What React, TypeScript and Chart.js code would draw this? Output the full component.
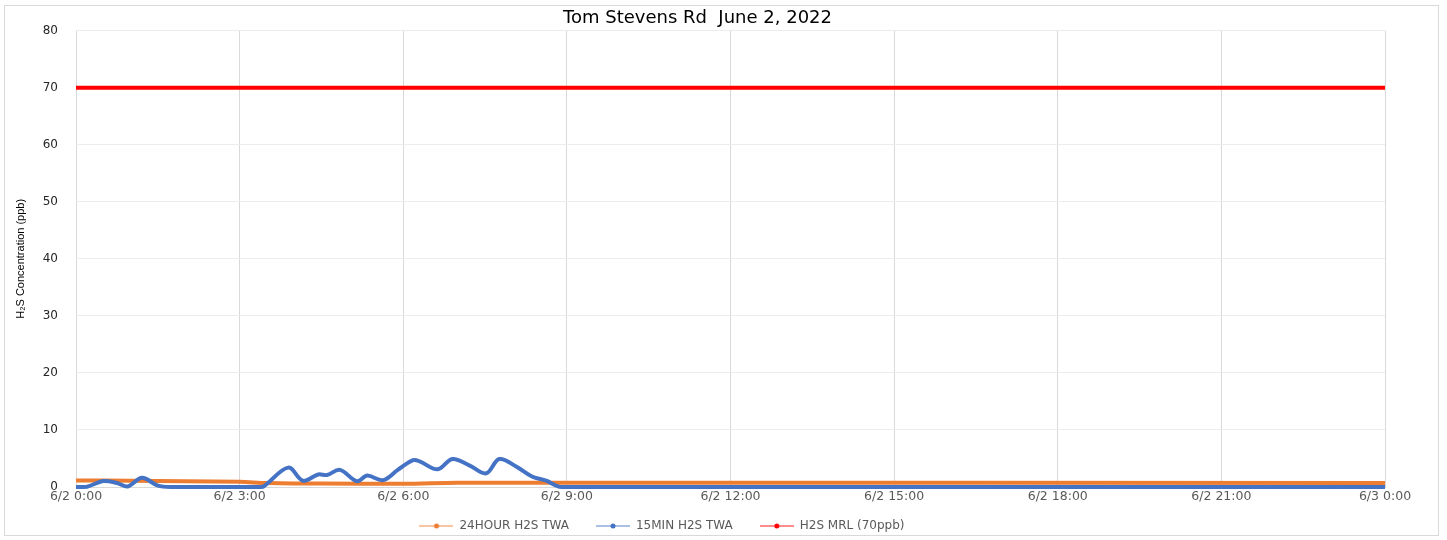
import React, { useEffect, useRef } from "react";
import { Chart, registerables } from "chart.js";

Chart.register(...registerables);

// ---- data ----
const chartTitle = "Tom Stevens Rd  June 2, 2022";
const yAxisTitle = "H\u2082S Concentration (ppb)";
const xTickLabels = [
  "6/2 0:00", "6/2 3:00", "6/2 6:00", "6/2 9:00", "6/2 12:00",
  "6/2 15:00", "6/2 18:00", "6/2 21:00", "6/3 0:00",
];
const seriesNames = ["24HOUR H2S TWA", "15MIN H2S TWA", "H2S MRL (70ppb)"];

// hours after 6/2 0:00
const min15Hours = [
  0, 0.2, 0.5, 0.75, 0.95, 1.21, 1.5, 1.75, 3.3, 3.43, 3.89, 4.16, 4.44, 4.6,
  4.84, 5.15, 5.34, 5.63, 5.9, 6.18, 6.3, 6.63, 6.9, 7.21, 7.52, 7.76, 8.07,
  8.37, 8.62, 8.86, 9.1, 24,
];
const min15Values = [
  0, 0.05, 1.05, 0.7, 0.1, 1.6, 0.25, 0, 0, 0.05, 3.4, 1.1, 2.2, 2.1, 3.0,
  1.0, 2.0, 1.2, 3.0, 4.7, 4.5, 3.1, 4.9, 3.8, 2.4, 4.9, 3.6, 1.8, 1.1, 0.05,
  0, 0,
];
const hour24Hours = [0, 1, 2, 3, 3.5, 4.5, 6, 7, 9, 24];
const hour24Values = [1.15, 1.1, 1.0, 0.9, 0.7, 0.6, 0.55, 0.75, 0.75, 0.72];
const mrlHours = [0, 24];
const mrlValues = [70, 70];

const ORANGE = "#ED7D31";
const BLUE = "#4472C4";
const RED = "#FF0000";

function legendIcon(color: string): HTMLCanvasElement {
  const c = document.createElement("canvas");
  c.width = 34;
  c.height = 8;
  const ctx = c.getContext("2d")!;
  ctx.globalAlpha = 0.6;
  ctx.strokeStyle = color;
  ctx.lineWidth = 1.5;
  ctx.beginPath();
  ctx.moveTo(0, 4);
  ctx.lineTo(34, 4);
  ctx.stroke();
  ctx.globalAlpha = 1;
  ctx.fillStyle = color;
  ctx.beginPath();
  ctx.arc(17, 4, 2.5, 0, Math.PI * 2);
  ctx.fill();
  return c;
}

function pts(xs: number[], ys: number[]) {
  return xs.map((x, i) => ({ x, y: ys[i] }));
}

export default function App() {
  const ref = useRef<HTMLCanvasElement | null>(null);

  useEffect(() => {
    document.body.style.margin = "0";
    const canvas = ref.current!;
    const icons = [legendIcon(ORANGE), legendIcon(BLUE), legendIcon(RED)];

    const layoutPlugin = {
      id: "layoutTweaks",
      beforeLayout(chart: any) {
        const lg = chart.legend;
        if (lg && !lg.__patched) {
          const orig = lg.fit.bind(lg);
          lg.fit = function () {
            orig();
            this.height = 36;
          };
          lg.__patched = true;
        }
      },
      afterLayout(chart: any) {
        const lg = chart.legend;
        if (lg) {
          lg.right -= 71;
          lg.top -= 11;
        }
      },
      beforeDraw(chart: any) {
        const ctx = chart.ctx;
        ctx.save();
        ctx.fillStyle = "#ffffff";
        ctx.fillRect(0, 0, chart.width, chart.height);
        ctx.restore();
      },
      afterDraw(chart: any) {
        const ctx = chart.ctx;
        ctx.save();
        ctx.strokeStyle = "#d9d9d9";
        ctx.lineWidth = 1;
        ctx.strokeRect(4.5, 5.5, 1434, 530);
        ctx.restore();
      },
    };

    const chart = new Chart(canvas, {
      type: "line",
      data: {
        datasets: [
          {
            label: seriesNames[0],
            data: pts(hour24Hours, hour24Values),
            borderColor: ORANGE,
            backgroundColor: ORANGE,
            borderWidth: 4,
            pointRadius: 0,
            tension: 0.3,
            order: 2,
            clip: 4,
          },
          {
            label: seriesNames[1],
            data: pts(min15Hours, min15Values),
            borderColor: BLUE,
            backgroundColor: BLUE,
            borderWidth: 4,
            pointRadius: 0,
            tension: 0.35,
            order: 1,
            clip: 4,
          },
          {
            label: seriesNames[2],
            data: pts(mrlHours, mrlValues),
            borderColor: RED,
            backgroundColor: RED,
            borderWidth: 4,
            pointRadius: 0,
            order: 0,
            clip: 6,
          },
        ],
      },
      options: {
        animation: false,
        responsive: false,
        layout: { padding: { left: 10, right: 62, top: 5, bottom: 0 } },
        plugins: {
          title: {
            display: true,
            text: chartTitle,
            color: "#000000",
            font: { family: "DejaVu Sans", size: 18, weight: "normal", lineHeight: 1.2 },
            padding: { top: 3, bottom: 1 },
          },
          legend: {
            position: "bottom",
            labels: {
              usePointStyle: true,
              pointStyleWidth: 34,
              color: "#595959",
              font: { family: "DejaVu Sans", size: 12 },
              padding: 27,
              generateLabels: () =>
                seriesNames.map((name, i) => ({
                  text: name,
                  pointStyle: icons[i],
                  fillStyle: "transparent",
                  strokeStyle: "transparent",
                  lineWidth: 0,
                  hidden: false,
                  datasetIndex: i,
                  fontColor: "#595959",
                })),
            },
          },
          tooltip: { enabled: false },
        },
        scales: {
          x: {
            type: "linear",
            min: 0,
            max: 24,
            ticks: {
              stepSize: 3,
              autoSkip: false,
              maxRotation: 0,
              padding: 2,
              color: "#595959",
              font: { family: "DejaVu Sans", size: 12.5 },
              callback: (v: any) => xTickLabels[Math.round(Number(v) / 3)] ?? "",
            },
            grid: { color: "#d9d9d9", drawTicks: false, lineWidth: 1 },
            border: { color: "#d9d9d9" },
            afterFit: (scale: any) => {
              scale.height = 17;
            },
          },
          y: {
            min: 0,
            max: 80,
            ticks: {
              stepSize: 10,
              padding: 18,
              color: "#262626",
              font: { family: "DejaVu Sans", size: 12 },
            },
            grid: { color: "#ececec", drawTicks: false },
            border: { display: false },
            title: {
              display: true,
              text: yAxisTitle,
              color: "#000000",
              font: { family: "Liberation Sans", size: 11 },
              padding: { top: 4, bottom: 0 },
            },
            afterFit: (scale: any) => {
              scale.width = 66;
            },
          },
        },
      },
      plugins: [layoutPlugin],
    } as any);

    return () => chart.destroy();
  }, []);

  return (
    <div style={{ width: 1447, height: 540 }}>
      <canvas ref={ref} width={1447} height={540} style={{ display: "block", width: 1447, height: 540 }} />
    </div>
  );
}
